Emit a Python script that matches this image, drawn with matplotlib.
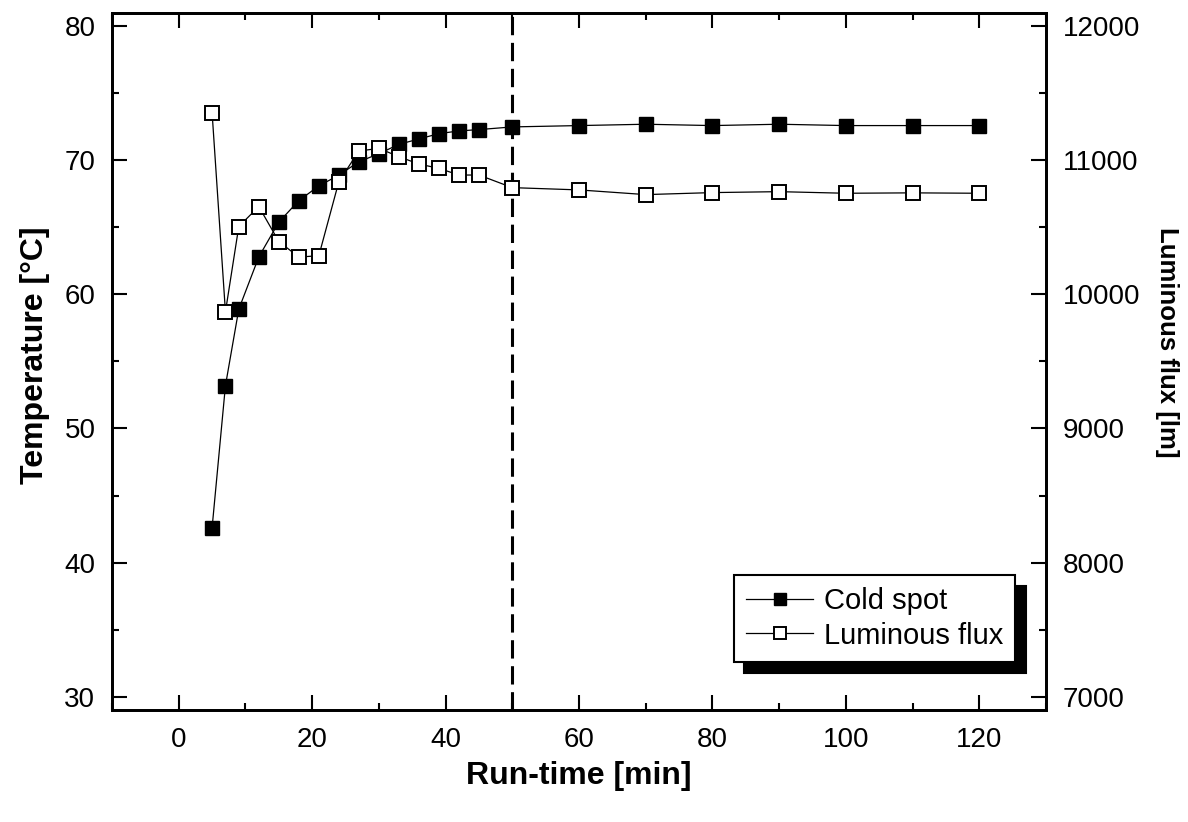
import numpy as np
import matplotlib.pyplot as plt

plt.rcParams['font.family'] = ['Liberation Sans', 'DejaVu Sans']

# run-time [min]
t = [5, 7, 9, 12, 15, 18, 21, 24, 27, 30, 33, 36, 39, 42, 45, 50,
     60, 70, 80, 90, 100, 110, 120]
# cold spot temperature [°C]
temp = [42.6, 53.2, 58.9, 62.8, 65.4, 67.0, 68.1, 68.9, 69.9, 70.5, 71.2,
        71.6, 72.0, 72.2, 72.3, 72.5, 72.6, 72.7, 72.6, 72.7, 72.6, 72.6, 72.6]
# luminous flux [lm]
flux = [11355, 9870, 10507, 10656, 10395, 10279, 10289, 10842, 11070, 11090,
        11028, 10973, 10941, 10891, 10891, 10797, 10780, 10745, 10760, 10767,
        10755, 10758, 10755]

fig = plt.figure(figsize=(11.88, 8.22), dpi=100)
ax = fig.add_axes([0.0943, 0.1363, 0.7862, 0.8479])
ax2 = ax.twinx()

l1, = ax.plot(t, temp, color='black', lw=0.9, marker='s', ms=10.5,
              mfc='black', mec='black', label='Cold spot')
l2, = ax2.plot(t, flux, color='black', lw=0.9, marker='s', ms=10.5,
               mfc='white', mec='black', mew=1.4, label='Luminous flux')
ax.axvline(50, color='black', ls='--', lw=2.2, dashes=(6, 2.5))

ax.set_xlim(-10, 130)
ax.set_ylim(29, 81)
ax2.set_ylim(6900, 12100)
ax.set_xticks(np.arange(0, 121, 20))
ax.set_xticks(np.arange(-10, 131, 10), minor=True)
ax.set_yticks(np.arange(30, 81, 10))
ax.set_yticks(np.arange(30, 81, 5), minor=True)
ax2.set_yticks(np.arange(7000, 12001, 1000))
ax2.set_yticks(np.arange(7000, 12001, 500), minor=True)

for a, kw in ((ax, dict(top=True, right=False)), (ax2, {})):
    a.tick_params(which='both', direction='in', labelsize=20, width=1.5,
                  pad=12, **kw)
    a.tick_params(which='major', length=11)
    a.tick_params(which='minor', length=5)
    for s in a.spines.values():
        s.set_linewidth(2)

ax.set_xlabel('Run-time [min]', fontsize=23, fontweight='bold', labelpad=6)
ax.set_ylabel('Temperature [°C]', fontsize=23, fontweight='bold')
ax.yaxis.set_label_coords(-0.066, 0.509)
ax2.set_ylabel('Luminous flux [lm]', fontsize=18.5, fontweight='bold',
               rotation=-90, labelpad=28)
ax2.yaxis.label.set_y(0.528)

leg = ax2.legend(handles=[l1, l2], loc='lower right',
                 bbox_to_anchor=(0.967, 0.069), fontsize=21, markerscale=0.78,
                 handlelength=2.3, handletextpad=0.35, borderpad=0.42,
                 labelspacing=0.22, borderaxespad=0, fancybox=False,
                 framealpha=1, edgecolor='black',
                 shadow={'ox': 7.5, 'oy': -8, 'color': 'black', 'alpha': 1})
leg.get_frame().set_linewidth(1.5)

fig.savefig('out.png', dpi=100)
